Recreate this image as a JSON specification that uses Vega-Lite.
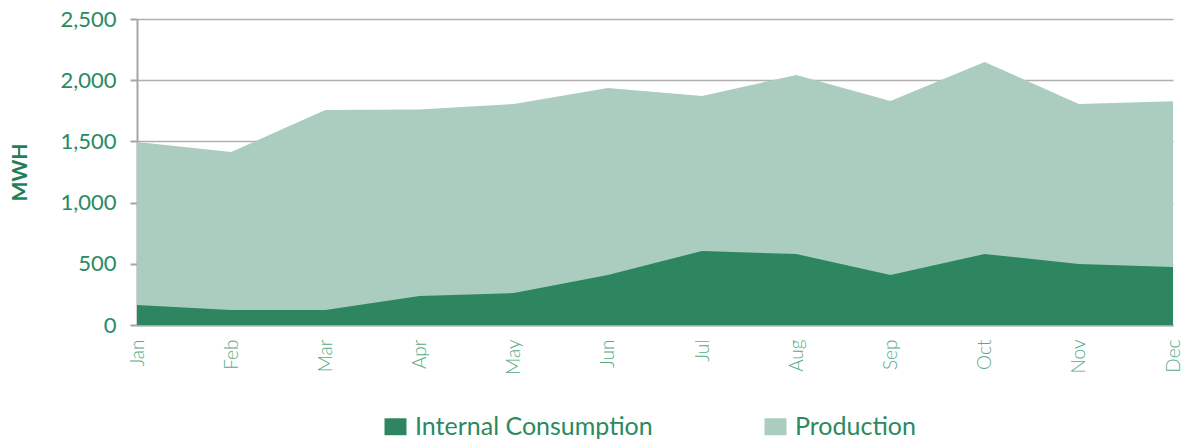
{
  "$schema": "https://vega.github.io/schema/vega-lite/v6.json",
  "width": 1036,
  "height": 306,
  "autosize": {"type": "none"},
  "padding": {"left": 137, "top": 19, "right": 12, "bottom": 114},
  "background": "white",
  "config": {
    "view": {"stroke": null},
    "font": "Lato"
  },
  "data": {
    "values": [
      {"month": "Jan", "series": "Production", "value": 1495},
      {"month": "Feb", "series": "Production", "value": 1413},
      {"month": "Mar", "series": "Production", "value": 1757},
      {"month": "Apr", "series": "Production", "value": 1760},
      {"month": "May", "series": "Production", "value": 1806},
      {"month": "Jun", "series": "Production", "value": 1936},
      {"month": "Jul", "series": "Production", "value": 1871},
      {"month": "Aug", "series": "Production", "value": 2043},
      {"month": "Sep", "series": "Production", "value": 1830},
      {"month": "Oct", "series": "Production", "value": 2149},
      {"month": "Nov", "series": "Production", "value": 1806},
      {"month": "Dec", "series": "Production", "value": 1828},
      {"month": "Jan", "series": "Internal Consumption", "value": 163},
      {"month": "Feb", "series": "Internal Consumption", "value": 123},
      {"month": "Mar", "series": "Internal Consumption", "value": 123},
      {"month": "Apr", "series": "Internal Consumption", "value": 237},
      {"month": "May", "series": "Internal Consumption", "value": 261},
      {"month": "Jun", "series": "Internal Consumption", "value": 408},
      {"month": "Jul", "series": "Internal Consumption", "value": 605},
      {"month": "Aug", "series": "Internal Consumption", "value": 580},
      {"month": "Sep", "series": "Internal Consumption", "value": 408},
      {"month": "Oct", "series": "Internal Consumption", "value": 580},
      {"month": "Nov", "series": "Internal Consumption", "value": 498},
      {"month": "Dec", "series": "Internal Consumption", "value": 474}
    ]
  },
  "encoding": {
    "x": {
      "field": "month",
      "type": "ordinal",
      "sort": ["Jan", "Feb", "Mar", "Apr", "May", "Jun", "Jul", "Aug", "Sep", "Oct", "Nov", "Dec"],
      "scale": {"type": "point", "padding": 0},
      "axis": {
        "title": null,
        "labelAngle": -90,
        "labelAlign": "right",
        "labelBaseline": "middle",
        "labelFontSize": 19,
        "labelFontWeight": 300,
        "labelColor": "#56ab84",
        "labelPadding": 14,
        "ticks": false,
        "domainColor": "#a6a6a6",
        "domainWidth": 2,
        "grid": false
      }
    },
    "y": {
      "field": "value",
      "type": "quantitative",
      "stack": null,
      "scale": {"domain": [0, 2500]},
      "axis": {
        "title": "MWH",
        "titleFontSize": 21,
        "titleFontWeight": "bold",
        "titleColor": "#1f7f56",
        "titlePadding": 29,
        "values": [0, 500, 1000, 1500, 2000, 2500],
        "format": ",d",
        "labelFontSize": 22,
        "labelColor": "#2a8a60",
        "labelPadding": 14,
        "tickSize": 7,
        "tickColor": "#a6a6a6",
        "tickWidth": 2,
        "domainColor": "#a6a6a6",
        "domainWidth": 2,
        "gridColor": "#b0b0b0",
        "gridWidth": 1.5
      }
    },
    "color": {
      "field": "series",
      "type": "nominal",
      "scale": {"domain": ["Internal Consumption", "Production"], "range": ["#2e8660", "#aacdbf"]},
      "legend": {
        "title": null,
        "orient": "none",
        "legendX": 246,
        "legendY": 395,
        "direction": "horizontal",
        "symbolType": "M-1,-0.77H1V0.77H-1Z",
        "symbolSize": 484,
        "symbolStrokeWidth": 0,
        "symbolOpacity": 1,
        "labelFontSize": 25,
        "labelColor": "#2a8a60",
        "labelOffset": 7,
        "labelLimit": 400,
        "columnPadding": 110
      }
    }
  },
  "layer": [
    {"transform": [{"filter": "datum.series === 'Production'"}], "mark": {"type": "area", "opacity": 1}},
    {"transform": [{"filter": "datum.series === 'Internal Consumption'"}], "mark": {"type": "area", "opacity": 1}}
  ]
}
